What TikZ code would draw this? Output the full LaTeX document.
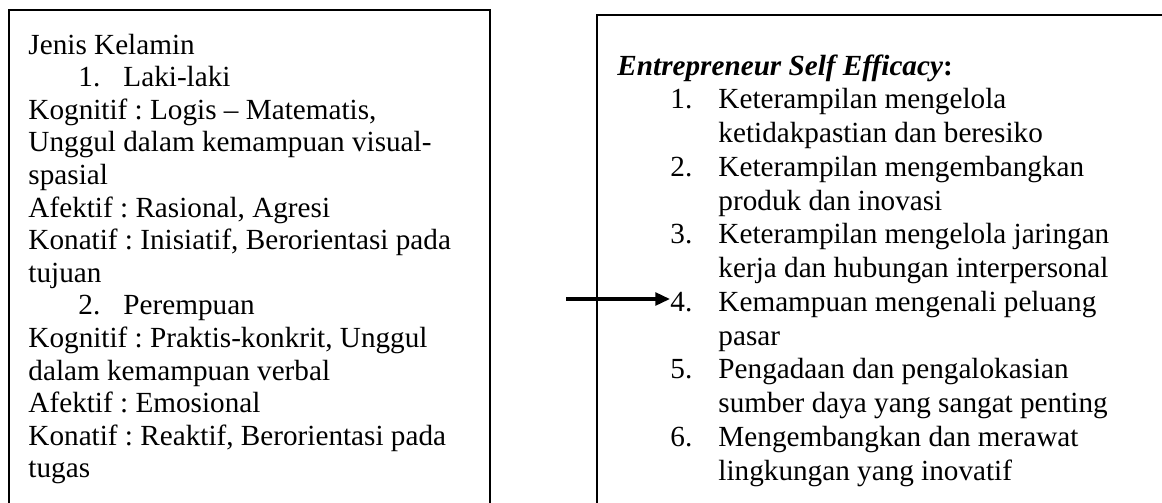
\documentclass[tikz,border=0pt]{standalone}
\usepackage{fontspec}
\setmainfont{Liberation Serif}
\usetikzlibrary{arrows.meta}
\frenchspacing

\begin{document}
\begin{tikzpicture}[x=0.411pt, y=-0.411pt,
  every node/.style={inner sep=0pt, anchor=base west},
  txt/.style={font=\fontsize{12}{13.8}\selectfont},
  frame/.style={draw=black, line width=1.1pt},
  link/.style={-{Triangle[length=6pt,width=5.2pt]}, line width=1.35pt},
]
\useasboundingbox (0,0) rectangle (1162,502);
\clip (0,0) rectangle (1162,502);
% the two boxes, both run past the lower edge
\draw[frame] (9,530) -- (9,10) -- (490,10) -- (490,530);
\draw[frame] (597,530) -- (597,15) -- (1200,15);
% left box
\node[txt] (jk) at (28,54) {Jenis Kelamin};
\node[txt] (m1) at (78,86.6) {1.};
\node[txt] (male) at (123,86.6) {Laki-laki};
\node[txt] (kg1) at (28,119.2) {Kognitif : Logis – Matematis,};
\node[txt] (kg1b) at (28,151.8) {Unggul dalam kemampuan visual-};
\node[txt] (kg1c) at (28,184.4) {spasial};
\node[txt] (af1) at (28,217) {Afektif : Rasional, Agresi};
\node[txt] (kn1) at (28,249.6) {Konatif : Inisiatif, Berorientasi pada};
\node[txt] (kn1b) at (28,282.2) {tujuan};
\node[txt] (m2) at (78,314.8) {2.};
\node[txt] (female) at (123,314.8) {Perempuan};
\node[txt] (kg2) at (28,347.4) {Kognitif : Praktis-konkrit, Unggul};
\node[txt] (kg2b) at (28,380) {dalam kemampuan verbal};
\node[txt] (af2) at (28,412.6) {Afektif : Emosional};
\node[txt] (kn2) at (28,445.2) {Konatif : Reaktif, Berorientasi pada};
\node[txt] (kn2b) at (28,477.8) {tugas};
% right box
\node[txt] (ese) at (617,75) {\textbf{\textit{Entrepreneur Self Efficacy}:}};
\node[txt] (n1) at (670,108.75) {1.};
\node[txt] (e1) at (718,108.75) {Keterampilan mengelola};
\node[txt] (e1b) at (718,142.5) {ketidakpastian dan beresiko};
\node[txt] (n2) at (670,176.25) {2.};
\node[txt] (e2) at (718,176.25) {Keterampilan mengembangkan};
\node[txt] (e2b) at (718,210) {produk dan inovasi};
\node[txt] (n3) at (670,243.75) {3.};
\node[txt] (e3) at (718,243.75) {Keterampilan mengelola jaringan};
\node[txt] (e3b) at (718,277.5) {kerja dan hubungan interpersonal};
\node[txt] (n4) at (670,311.25) {4.};
\node[txt] (e4) at (718,311.25) {Kemampuan mengenali peluang};
\node[txt] (e4b) at (718,345) {pasar};
\node[txt] (n5) at (670,378.75) {5.};
\node[txt] (e5) at (718,378.75) {Pengadaan dan pengalokasian};
\node[txt] (e5b) at (718,412.5) {sumber daya yang sangat penting};
\node[txt] (n6) at (670,446.25) {6.};
\node[txt] (e6) at (718,446.25) {Mengembangkan dan merawat};
\node[txt] (e6b) at (718,480) {lingkungan yang inovatif};
% arrow into item 4
\coordinate (src) at (566,299);
\draw[link] (src) -- (src -| n4.west);
\end{tikzpicture}
\end{document}
